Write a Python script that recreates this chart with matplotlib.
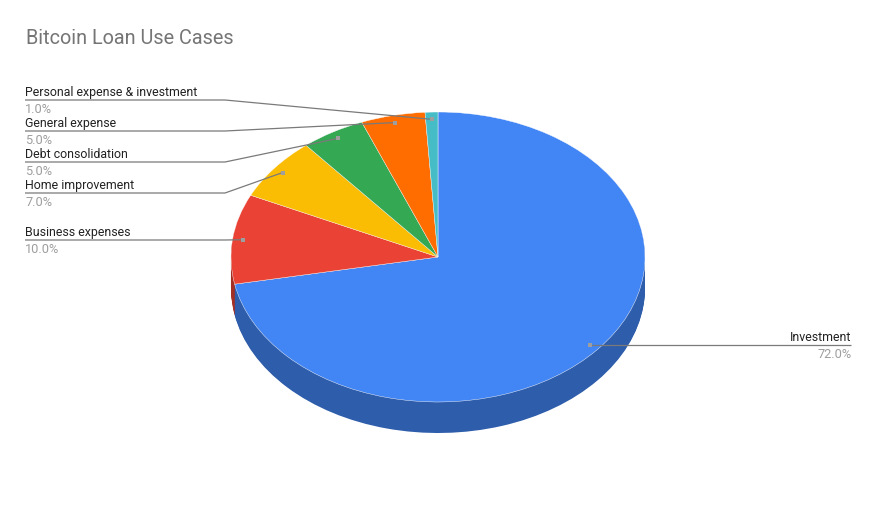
import numpy as np
import matplotlib
matplotlib.use("Agg")
import matplotlib.pyplot as plt
from matplotlib.colors import to_rgb

plt.rcParams['font.family'] = ['Roboto', 'DejaVu Sans']

W, H = 876, 505
CX, CY = 438, 257  # pie centre in pixels
RX, RY = 207, 145  # squashed radii
DEPTH = 31

labels = ["Investment", "Business expenses", "Home improvement",
          "Debt consolidation", "General expense", "Personal expense & investment"]
values = [72.0, 10.0, 7.0, 5.0, 5.0, 1.0]
colors = ["#4285F4", "#EA4335", "#FBBC04", "#34A853", "#FF6D01", "#46BDC6"]
label_y = [345, 240, 193, 162, 131, 100]  # y of each underline, pixels


def darker(c, f=0.7):
    return tuple(v * f for v in to_rgb(c))


fig = plt.figure(figsize=(W / 100, H / 100), dpi=100)

# pie axes: one data unit is RX pixels across and RY pixels down
ax = fig.add_axes([0, 0, 1, 1])
dark = [darker(c) for c in colors]
for off in np.arange(DEPTH, 0, -1.0):
    ax.pie(values, colors=dark, startangle=90, counterclock=False,
           center=(0, -off / RY), frame=True)
wedges, _ = ax.pie(values, colors=colors, startangle=90, counterclock=False,
                   center=(0, 0), frame=True,
                   wedgeprops=dict(edgecolor="#ffffff", linewidth=0.3))
ax.set_aspect("auto")
ax.set_xlim(-CX / RX, (W - CX) / RX)
ax.set_ylim((CY - H) / RY, CY / RY)
ax.axis("off")

# overlay in pixel coordinates for the labels
top = fig.add_axes([0, 0, 1, 1], facecolor="none")
top.set_xlim(0, W)
top.set_ylim(H, 0)
top.axis("off")

top.text(25.5, 44, "Bitcoin Loan Use Cases", fontsize=14.3, color="#757575",
         ha="left", va="baseline")

cum = 0.0
for name, val, ly in zip(labels, values, label_y):
    mid = np.radians((cum + val / 2) / sum(values) * 360)
    cum += val
    dx = CX + 0.95 * RX * np.sin(mid)
    dy = CY - 0.95 * RY * np.cos(mid)
    if dx > CX:
        xs, ys = [851, dx], [ly, ly]
        tx, ha = 851.5, "right"
    else:
        xs, ys = [25, 225, dx], [ly, ly, dy]
        tx, ha = 25, "left"
    top.plot(xs, ys, color="#7a7a7a", lw=0.9, solid_capstyle="butt")
    top.plot([dx], [dy], "s", color="#9e9e9e", ms=3, mew=0)
    top.text(tx, ly - 4, name, fontsize=8.9, color="#222222", ha=ha, va="baseline")
    top.text(tx, ly + 13, "%.1f%%" % val, fontsize=9.2, color="#9e9e9e", ha=ha, va="baseline")

fig.savefig("out.png", dpi=100, facecolor="white")
